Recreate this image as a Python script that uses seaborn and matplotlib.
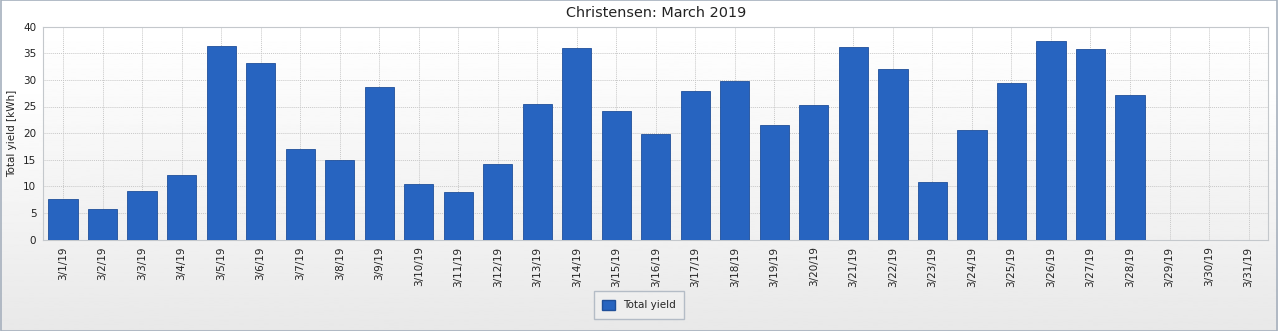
import numpy as np
import pandas as pd
import matplotlib
matplotlib.use("Agg")
import matplotlib.pyplot as plt
from matplotlib.patches import Patch, Rectangle
import seaborn as sns

# Daily totals for March 2019 (kWh); last three days have no readings
dates = [f"3/{d}/19" for d in range(1, 32)]
yields = [7.6, 5.7, 9.1, 12.1, 36.4, 33.2, 16.95, 15.0, 28.7, 10.5,
          8.9, 14.1, 25.5, 36.0, 24.15, 19.8, 27.9, 29.7, 21.5, 25.2,
          36.2, 32.0, 10.8, 20.5, 29.5, 37.4, 35.8, 27.2, np.nan, np.nan, np.nan]
y_ticks = [0, 5, 10, 15, 20, 25, 30, 35, 40]

df = pd.DataFrame({"date": dates, "yield": yields})

sns.set_theme(style="white")
plt.rcParams["font.family"] = ["DejaVu Sans"]

W, H = 1278, 331
fig = plt.figure(figsize=(W / 100, H / 100), dpi=100)

# figure background: soft vertical gradient with a thin frame
bg = fig.add_axes([0, 0, 1, 1], zorder=-10)
grad = np.linspace(0, 1, 256).reshape(-1, 1)
bg.imshow(np.interp(grad, [0, 0.25, 1], [1.0, 1.0, 0.91]), cmap="gray", vmin=0, vmax=1,
          aspect="auto", extent=[0, 1, 0, 1], origin="upper")
bg.add_patch(Rectangle((0.0008, 0.0015), 0.9984, 0.997, fill=False,
                       edgecolor="#a6b0bd", linewidth=1.2, transform=bg.transAxes))
bg.set_axis_off()

left, right = 43.3 / W, 1268.3 / W
bottom, top = 1 - 239.5 / H, 1 - 26.7 / H
ax = fig.add_axes([left, bottom, right - left, top - bottom])
ax.set_facecolor("none")

sns.barplot(data=df, x="date", y="yield", order=dates, color="#2764c0",
            width=0.74, edgecolor="#1f4f9a", linewidth=0.6, saturation=1,
            ax=ax, zorder=3)

# plot-area gradient
ax.imshow(np.interp(grad, [0, 1], [1.0, 0.94]), cmap="gray", vmin=0, vmax=1,
          aspect="auto", extent=[-0.5, len(dates) - 0.5, 0, 40], origin="upper", zorder=0)

ax.set_xlim(-0.5, len(dates) - 0.5)
ax.set_ylim(0, 40)
ax.set_yticks(y_ticks)
ax.set_yticklabels([str(t) for t in y_ticks], fontsize=7.5, color="#222222")
ax.set_xticks(range(len(dates)))
ax.set_xticklabels(dates, rotation=90, fontsize=7.5, color="#222222")
ax.tick_params(axis="both", length=2, color="#999999", pad=3)
ax.grid(True, which="major", color="#c8c8c8", linestyle=(0, (1, 1)), linewidth=0.7, zorder=1)
ax.set_axisbelow(True)
for s in ax.spines.values():
    s.set_color("#c4c8cc")
    s.set_linewidth(0.8)

ax.set_xlabel("")
ax.set_ylabel("Total yield [kWh]", fontsize=7.5, color="#222222", labelpad=4)
ax.set_title("Christensen: March 2019", fontsize=10.4, color="#222222", pad=7)

fig.legend(handles=[Patch(facecolor="#2764c0", edgecolor="#1f4f9a", label="Total yield")],
           loc="center", bbox_to_anchor=(0.5, 1 - 305 / H), fontsize=7.5,
           frameon=True, fancybox=False, edgecolor="#a6b0bd", facecolor="#f0f0f0",
           handlelength=1.2, handleheight=1.2, borderpad=0.8)

fig.savefig("out.png", dpi=100)
